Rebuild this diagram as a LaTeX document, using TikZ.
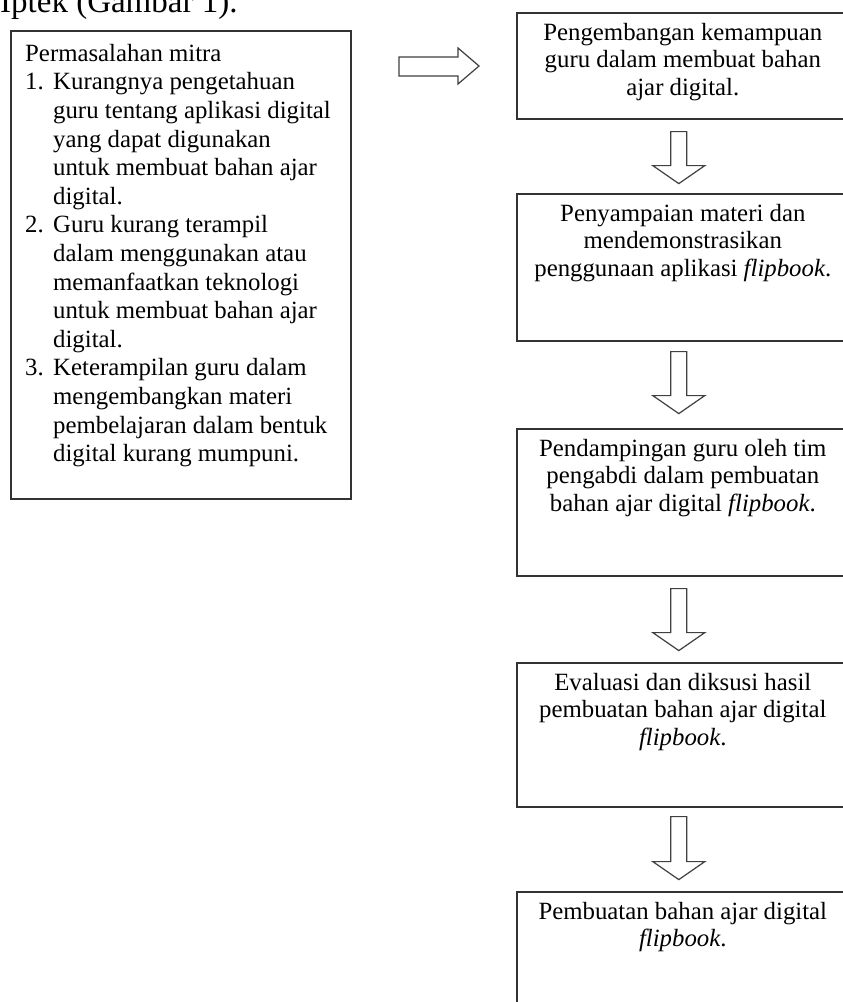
\documentclass[tikz,border=0pt]{standalone}
\usepackage{fontspec}
\setmainfont{Liberation Serif}
\usetikzlibrary{calc}
\newcommand\downblock[2]{\draw[blockarrow] (#1) ++(-8,0) -- ++(16,0) -- ++(0,#2-18) -- ++(18,0) -- ++(-26,18) -- ++(-26,-18) -- ++(18,0) -- cycle;}
\begin{document}
\begin{tikzpicture}[x=1pt,y=-1pt,
  box/.style={draw=black!80, line width=1.6pt, inner sep=0pt, anchor=north west, minimum width=332},
  boxtext/.style={align=center, inner sep=0pt, anchor=north, font=\fontsize{24.8}{27.5}\selectfont},
  blockarrow/.style={draw=black!75, line width=1.2pt, fill=white, line join=miter},
]
\path[use as bounding box, fill=white] (0,0) rectangle (843,1002);

% heading (cut off at the top)
\node[anchor=base west, inner sep=0pt, font=\fontsize{33}{40}\selectfont] (head) at (0,12) {Iptek (Gambar 1).};

% left box
\node[draw=black!80, line width=1.6pt, inner sep=0pt, anchor=north west, minimum width=340, minimum height=468] (mitra) at (10,30) {};
\node[anchor=north west, align=left, inner sep=0pt, font=\fontsize{24.8}{28.6}\selectfont] (mitratext) at (25,41)
{\strut Permasalahan mitra\\
\makebox[28pt][l]{1.}Kurangnya pengetahuan\\
\hspace*{28pt}guru tentang aplikasi digital\\
\hspace*{28pt}yang dapat digunakan\\
\hspace*{28pt}untuk membuat bahan ajar\\
\hspace*{28pt}digital.\\
\makebox[28pt][l]{2.}Guru kurang terampil\\
\hspace*{28pt}dalam menggunakan atau\\
\hspace*{28pt}memanfaatkan teknologi\\
\hspace*{28pt}untuk membuat bahan ajar\\
\hspace*{28pt}digital.\\
\makebox[28pt][l]{3.}Keterampilan guru dalam\\
\hspace*{28pt}mengembangkan materi\\
\hspace*{28pt}pembelajaran dalam bentuk\\
\hspace*{28pt}digital kurang mumpuni.};

% right arrow
\coordinate (ra) at (399,57);
\draw[blockarrow] (ra) -- ++(59,0) -- ++(0,-9) -- ++(21,18) -- ++(-21,18) -- ++(0,-8) -- ++(-59,0) -- cycle;

% right column boxes
\node[box, minimum height=106] (b1) at (516,12) {};
\node[box, minimum height=147] (b2) at (516,193) {};
\node[box, minimum height=147] (b3) at (516,428) {};
\node[box, minimum height=144] (b4) at (516,662) {};
\node[box, minimum height=150] (b5) at (516,891) {};

\node[boxtext] (t1) at ($(b1.north)+(0,9)$) {\strut Pengembangan kemampuan\\guru dalam membuat bahan\\ajar digital.};
\node[boxtext] (t2) at ($(b2.north)+(0,9)$) {\strut Penyampaian materi dan\\mendemonstrasikan\\penggunaan aplikasi \textit{flipbook}.};
\node[boxtext] (t3) at ($(b3.north)+(0,9)$) {\strut Pendampingan guru oleh tim\\pengabdi dalam pembuatan\\bahan ajar digital \textit{flipbook}.};
\node[boxtext] (t4) at ($(b4.north)+(0,9)$) {\strut Evaluasi dan diksusi hasil\\pembuatan bahan ajar digital\\\textit{flipbook}.};
\node[boxtext] (t5) at ($(b5.north)+(0,9)$) {\strut Pembuatan bahan ajar digital\\\textit{flipbook}.};

% down arrows
\coordinate (a1) at ($(b1.south)+(-4,12)$);
\coordinate (a2) at ($(b2.south)+(-4,10)$);
\coordinate (a3) at ($(b3.south)+(-4,12)$);
\coordinate (a4) at ($(b4.south)+(-4,9)$);
\downblock{a1}{52}
\downblock{a2}{62}
\downblock{a3}{62}
\downblock{a4}{63}
\end{tikzpicture}
\end{document}
